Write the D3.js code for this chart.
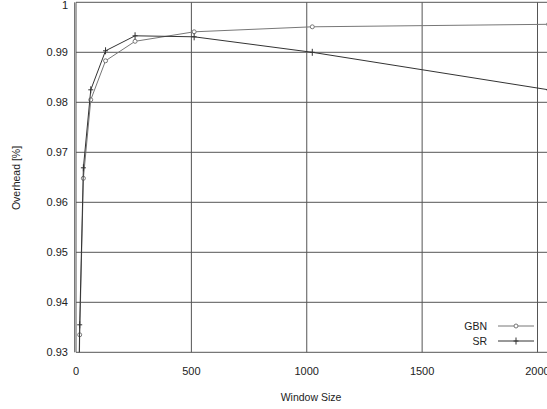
<!DOCTYPE html>
<html>
<head>
<meta charset="utf-8">
<script src="https://cdn.jsdelivr.net/npm/d3@7"></script>
<style>
  body { margin: 0; background: #fff; }
  svg { display: block; font-family: "Liberation Sans", Arial, sans-serif; }
</style>
</head>
<body>
<div id="chart"><svg></svg></div>
<script>
// window sizes (x) and overhead per protocol
const windowSizes = [8, 16, 32, 64, 128, 256, 512, 1024, 2048];
const gbnValues = [0.905, 0.9335, 0.9648, 0.9805, 0.9883, 0.9922, 0.9941, 0.9951, 0.9956];
const srValues = [0.91, 0.9355, 0.9669, 0.9825, 0.9903, 0.9933, 0.9931, 0.9900, 0.9825];
const xTicks = [0, 500, 1000, 1500, 2000];
const yTicks = [0.93, 0.94, 0.95, 0.96, 0.97, 0.98, 0.99, 1];

const width = 547, height = 409;
const margin = { top: 2.3, left: 76, bottom: 352.3 };

var svg = d3.select("#chart > svg").attr("width", width).attr("height", height);

var x = d3.scaleLinear().domain([0, 2000]).range([margin.left, 537.5]);
var y = d3.scaleLinear().domain([0.93, 1]).range([margin.bottom, margin.top]);

svg.append("defs").append("clipPath").attr("id", "plot")
  .append("rect")
  .attr("x", margin.left).attr("y", margin.top)
  .attr("width", 600).attr("height", margin.bottom - margin.top);

// gridlines
svg.append("g")
  .selectAll("line.v")
  .data(xTicks)
  .join("line")
  .attr("x1", d => x(d)).attr("x2", d => x(d))
  .attr("y1", margin.top).attr("y2", margin.bottom)
  .attr("stroke", "#555").attr("stroke-width", 1);

svg.append("g")
  .selectAll("line.h")
  .data(yTicks)
  .join("line")
  .attr("x1", margin.left).attr("x2", width + 10)
  .attr("y1", d => y(d)).attr("y2", d => y(d))
  .attr("stroke", "#555").attr("stroke-width", 1);

// left border (slightly offset from the 0 gridline, as in the original)
svg.append("line")
  .attr("x1", margin.left - 1.5).attr("x2", margin.left - 1.5)
  .attr("y1", margin.top).attr("y2", margin.bottom)
  .attr("stroke", "#777");

// tick labels (top one nudged down so it stays on the page)
svg.append("g")
  .selectAll("text")
  .data(yTicks)
  .join("text")
  .attr("x", 68).attr("y", d => Math.max(y(d), 5))
  .attr("dy", "0.35em")
  .attr("text-anchor", "end")
  .attr("font-size", 11)
  .attr("fill", "#222")
  .text(d => d === 1 ? "1" : d.toFixed(2));

svg.append("g")
  .selectAll("text")
  .data(xTicks)
  .join("text")
  .attr("x", d => x(d)).attr("y", 371.5)
  .attr("dy", "0.35em")
  .attr("text-anchor", "middle")
  .attr("font-size", 11)
  .attr("fill", "#222")
  .text(d => d);

svg.append("text")
  .attr("x", 311).attr("y", 397)
  .attr("dy", "0.35em")
  .attr("text-anchor", "middle")
  .attr("font-size", 10.5)
  .attr("fill", "#222")
  .text("Window Size");

svg.append("text")
  .attr("transform", "translate(16,178) rotate(-90)")
  .attr("dy", "0.35em")
  .attr("text-anchor", "middle")
  .attr("font-size", 10.5)
  .attr("fill", "#222")
  .text("Overhead [%]");

const series = [
  { name: "GBN", values: gbnValues, color: "#777", marker: "circle" },
  { name: "SR", values: srValues, color: "#333", marker: "plus" }
];

const plot = svg.append("g").attr("clip-path", "url(#plot)");

const drawMarker = (g, s, cx, cy) => {
  if (s.marker === "circle") {
    g.append("circle")
      .attr("cx", cx).attr("cy", cy).attr("r", 2)
      .attr("fill", "#fff").attr("stroke", s.color).attr("stroke-width", 1);
  } else {
    g.append("path")
      .attr("d", `M${cx - 2.5},${cy}H${cx + 2.5}M${cx},${cy - 3.5}V${cy + 3.5}`)
      .attr("stroke", s.color).attr("stroke-width", 1).attr("fill", "none");
  }
};

series.forEach(s => {
  const pts = windowSizes.map((w, i) => ({ w: w, v: s.values[i] }));
  plot.append("path")
    .datum(pts)
    .attr("fill", "none")
    .attr("stroke", s.color)
    .attr("stroke-width", 1)
    .attr("d", d3.line().x(d => x(d.w)).y(d => y(d.v)));
  pts.forEach(p => drawMarker(plot, s, x(p.w), y(p.v)));
});

// legend
series.forEach((s, i) => {
  const ly = 326 + i * 15;
  svg.append("text")
    .attr("x", 487).attr("y", ly)
    .attr("dy", "0.35em")
    .attr("text-anchor", "end")
    .attr("font-size", 10.5)
    .attr("fill", "#222")
    .text(s.name);
  svg.append("line")
    .attr("x1", 498).attr("x2", 534)
    .attr("y1", ly).attr("y2", ly)
    .attr("stroke", s.color);
  drawMarker(svg, s, 516, ly);
});
</script>
</body>
</html>
